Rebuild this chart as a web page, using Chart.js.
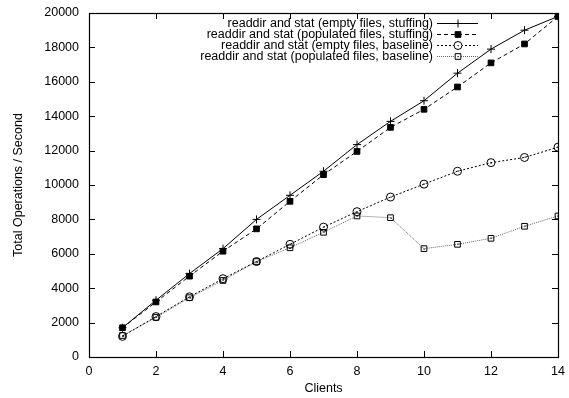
<!DOCTYPE html>
<html>
<head>
<meta charset="utf-8">
<script src="https://cdn.jsdelivr.net/npm/chart.js@4"></script>
<style>
  html, body { margin: 0; padding: 0; background: #fff; }
  #wrap { width: 569px; height: 398px; }
</style>
</head>
<body>
<div id="wrap"><canvas id="myChart" width="569" height="398"></canvas></div>
<script>
const clients = [1, 2, 3, 4, 5, 6, 7, 8, 9, 10, 11, 12, 13, 14];
const emptyStuffing = [1700, 3300, 4850, 6300, 8000, 9400, 10800, 12350, 13700, 14900, 16500, 17900, 19000, 19800];
const populatedStuffing = [1700, 3200, 4700, 6150, 7450, 9050, 10600, 11950, 13350, 14400, 15700, 17100, 18200, 19800];
const emptyBaseline = [1200, 2350, 3500, 4550, 5550, 6550, 7550, 8450, 9300, 10050, 10800, 11300, 11600, 12200];
const populatedBaseline = [1250, 2300, 3450, 4450, 5550, 6350, 7250, 8200, 8100, 6300, 6550, 6900, 7600, 8200];
const seriesLabels = [
  'readdir and stat (empty files, stuffing)',
  'readdir and stat (populated files, stuffing)',
  'readdir and stat (empty files, baseline)',
  'readdir and stat (populated files, baseline)'
];

const FONT = 'Liberation Sans, Arial, Helvetica, sans-serif';
Chart.defaults.font.family = FONT;
Chart.defaults.font.size = 12.5;
Chart.defaults.color = '#000';

function pts(vals) {
  return clients.map((c, i) => ({ x: c, y: vals[i] }));
}

// gnuplot-ish frame with inward ticks on all four sides
const framePlugin = {
  id: 'frame',
  afterDatasetsDraw(chart) {
    const ctx = chart.ctx, a = chart.chartArea;
    const xs = chart.scales.x, ys = chart.scales.y;
    const L = 6;
    ctx.save();
    ctx.strokeStyle = '#000';
    ctx.lineWidth = 1.2;
    ctx.setLineDash([]);
    ctx.strokeRect(Math.round(a.left) + 0.5, Math.round(a.top) + 0.5,
                   Math.round(a.right - a.left), Math.round(a.bottom - a.top));
    ctx.lineWidth = 1;
    ctx.beginPath();
    xs.ticks.forEach(t => {
      const px = Math.round(xs.getPixelForValue(t.value)) + 0.5;
      ctx.moveTo(px, a.bottom); ctx.lineTo(px, a.bottom - L);
      ctx.moveTo(px, a.top); ctx.lineTo(px, a.top + L);
    });
    ys.ticks.forEach(t => {
      const py = Math.round(ys.getPixelForValue(t.value)) + 0.5;
      ctx.moveTo(a.left, py); ctx.lineTo(a.left + L, py);
      ctx.moveTo(a.right, py); ctx.lineTo(a.right - L, py);
    });
    ctx.stroke();
    ctx.restore();
  }
};

// center dots for the hollow markers
const dotPlugin = {
  id: 'dots',
  afterDatasetsDraw(chart) {
    const ctx = chart.ctx;
    ctx.save();
    ctx.fillStyle = '#000';
    [2, 3].forEach(i => {
      chart.getDatasetMeta(i).data.forEach(p => {
        ctx.fillRect(Math.round(p.x) - 0.5, Math.round(p.y) - 0.5, 1.2, 1.2);
      });
    });
    ctx.restore();
  }
};

// legend inside, text right aligned and sample on the right (gnuplot key)
const keyPlugin = {
  id: 'key',
  afterDatasetsDraw(chart) {
    const ctx = chart.ctx, a = chart.chartArea;
    const textRight = a.right - 125;
    const x0 = a.right - 121, x1 = a.right - 80;
    const top = a.top + 10, step = 11.1;
    ctx.save();
    ctx.font = '12.5px ' + FONT;
    ctx.textAlign = 'right';
    ctx.textBaseline = 'middle';
    chart.data.datasets.forEach((ds, i) => {
      const y = Math.round(top + i * step) + 0.5;
      const mx = Math.round((x0 + x1) / 2);
      ctx.fillStyle = '#000';
      ctx.fillText(ds.label, textRight, y);
      ctx.strokeStyle = ds.borderColor;
      ctx.lineWidth = ds.borderWidth;
      ctx.setLineDash(ds.borderDash || []);
      ctx.beginPath();
      ctx.moveTo(x0, y); ctx.lineTo(x1, y);
      ctx.stroke();
      ctx.setLineDash([]);
      ctx.fillStyle = ds.pointBackgroundColor;
      ctx.strokeStyle = ds.pointBorderColor;
      ctx.lineWidth = 1;
      if (ds.pointBackgroundColor !== '#000') {
        // hollow marker: blank the line under it
        ctx.fillStyle = '#fff';
      }
      Chart.helpers.drawPoint(ctx, {
        pointStyle: ds.pointStyle, radius: ds.pointRadius, rotation: 0, borderWidth: 1
      }, mx, y);
      if (i >= 2) {
        ctx.fillStyle = '#000';
        ctx.fillRect(mx - 0.5, y - 0.5, 1.2, 1.2);
      }
    });
    ctx.restore();
  }
};

const ctx = document.getElementById('myChart');
const myChart = new Chart(ctx, {
  type: 'line',
  data: {
    datasets: [
      {
        label: seriesLabels[0], data: pts(emptyStuffing),
        borderColor: '#000', borderWidth: 1, pointStyle: 'cross', pointRadius: 4,
        pointBorderColor: '#000', pointBackgroundColor: '#000', pointBorderWidth: 1
      },
      {
        label: seriesLabels[1], data: pts(populatedStuffing),
        borderColor: '#000', borderWidth: 1, borderDash: [4, 3], pointStyle: 'rect', pointRadius: 4,
        pointBorderColor: '#000', pointBackgroundColor: '#000', pointBorderWidth: 1
      },
      {
        label: seriesLabels[2], data: pts(emptyBaseline),
        borderColor: '#000', borderWidth: 1, borderDash: [2, 2], pointStyle: 'circle', pointRadius: 4,
        pointBorderColor: '#000', pointBackgroundColor: 'rgba(255,255,255,0)', pointBorderWidth: 1
      },
      {
        label: seriesLabels[3], data: pts(populatedBaseline),
        borderColor: '#666', borderWidth: 1, borderDash: [1, 1], pointStyle: 'rect', pointRadius: 4,
        pointBorderColor: '#000', pointBackgroundColor: 'rgba(255,255,255,0)', pointBorderWidth: 1
      }
    ]
  },
  options: {
    responsive: false,
    animation: false,
    layout: { padding: { left: 0, right: 11, top: 13, bottom: 0 } },
    plugins: { legend: { display: false }, tooltip: { enabled: false } },
    elements: { line: { tension: 0 } },
    scales: {
      x: {
        type: 'linear', min: 0, max: 14,
        ticks: { stepSize: 2, padding: 7, maxRotation: 0 },
        grid: { display: false, drawTicks: false }, border: { display: false },
        title: { display: true, text: 'Clients', padding: { top: 2, bottom: 2 } },
        afterFit(s) { s.height = 41; s.paddingLeft = 0; s.paddingRight = 0; }
      },
      y: {
        min: 0, max: 20000,
        ticks: { stepSize: 2000, padding: 10, callback: v => String(v) },
        grid: { display: false, drawTicks: false }, border: { display: false },
        title: { display: true, text: 'Total Operations / Second', padding: { top: 11, bottom: 4 } },
        afterFit(s) { s.width = 89; s.paddingTop = 0; s.paddingBottom = 0; }
      }
    }
  },
  plugins: [framePlugin, dotPlugin, keyPlugin]
});
</script>
</body>
</html>
